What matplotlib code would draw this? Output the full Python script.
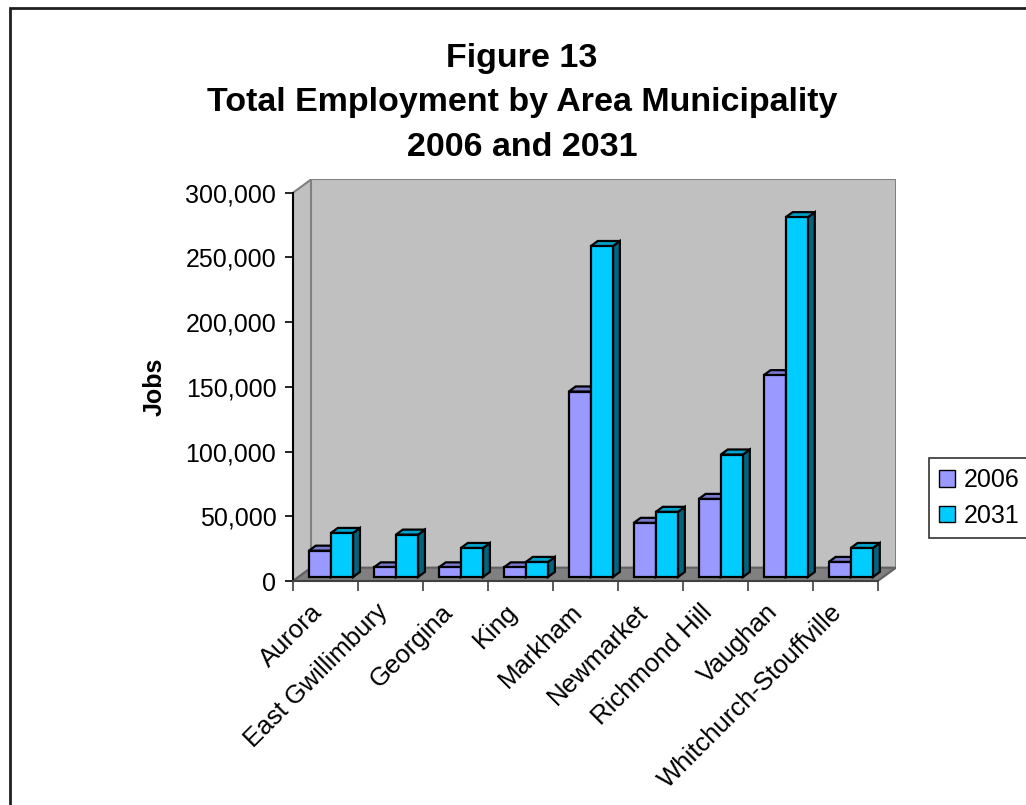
import matplotlib
matplotlib.use("Agg")
import matplotlib.pyplot as plt
from matplotlib.patches import Polygon, Rectangle
from matplotlib.transforms import ScaledTranslation

plt.rcParams["font.family"] = ["Liberation Sans", "DejaVu Sans"]

# Data (jobs)
municipalities = ["Aurora", "East Gwillimbury", "Georgina", "King", "Markham",
                  "Newmarket", "Richmond Hill", "Vaughan", "Whitchurch-Stouffville"]
jobs_2006 = [20300, 7400, 7400, 7400, 143300, 41800, 60300, 155900, 11600]
jobs_2031 = [34000, 32700, 22400, 11600, 255700, 50300, 94600, 278000, 22400]
series_names = ["2006", "2031"]
y_ticks = [0, 50000, 100000, 150000, 200000, 250000, 300000]

# colours: front, top, side
colors = {
    "2006": ("#9999FF", "#7A7ACC", "#4D4D80"),
    "2031": ("#00CCFF", "#00A3CC", "#006680"),
}

# oblique depth vector (category units, jobs)
DX, DY = 0.28, 10300
F0, F1 = 0.30, 0.68   # bar front / back position within depth
W = 0.34
YMAX = y_ticks[-1]
n = len(municipalities)

fig = plt.figure(figsize=(10.26, 8.05), dpi=100)
ax = fig.add_axes([293 / 1026, 1 - 581 / 805, 603 / 1026, 401.6 / 805])
ax.set_xlim(0, n + DX)
ax.set_ylim(0, YMAX + DY)

# walls and floor
wall_kw = dict(facecolor="#C0C0C0", edgecolor="#808080", linewidth=1.5, zorder=1)
ax.add_patch(Polygon([(0, 0), (DX, DY), (DX, YMAX + DY), (0, YMAX)], **wall_kw))
ax.add_patch(Polygon([(DX, DY), (n + DX, DY), (n + DX, YMAX + DY), (DX, YMAX + DY)], **wall_kw))
ax.add_patch(Polygon([(0, 0), (n, 0), (n + DX, DY), (DX, DY)],
                     facecolor="#808080", edgecolor="#606060", linewidth=1.5, zorder=2))


def draw_bar(x0, x1, v, front, top, side):
    kw = dict(edgecolor="black", linewidth=1.6, joinstyle="miter", zorder=3)
    ax.add_patch(Polygon([(x1 + F0 * DX, F0 * DY), (x1 + F1 * DX, F1 * DY),
                          (x1 + F1 * DX, v + F1 * DY), (x1 + F0 * DX, v + F0 * DY)],
                         facecolor=side, **kw))
    ax.add_patch(Polygon([(x0 + F0 * DX, v + F0 * DY), (x1 + F0 * DX, v + F0 * DY),
                          (x1 + F1 * DX, v + F1 * DY), (x0 + F1 * DX, v + F1 * DY)],
                         facecolor=top, **kw))
    ax.add_patch(Rectangle((x0 + F0 * DX, F0 * DY), x1 - x0, v,
                           facecolor=front, **kw))


for i in range(n):
    for s, vals in enumerate([jobs_2006, jobs_2031]):
        x0 = i + 0.5 - W + s * W
        draw_bar(x0, x0 + W, vals[i], *colors[series_names[s]])

# axes styling
for side in ["top", "right"]:
    ax.spines[side].set_visible(False)
ax.spines["left"].set_bounds(0, YMAX)
ax.spines["left"].set_linewidth(1.5)
ax.spines["bottom"].set_bounds(0, n)
ax.spines["bottom"].set_linewidth(1.5)
ax.spines["bottom"].set_color("#404040")
ax.set_yticks(y_ticks)
ax.set_yticklabels([f"{v:,}" for v in y_ticks], fontsize=18)
ax.tick_params(axis="y", length=6, width=1.2, pad=6)
ax.set_xticks(range(n + 1))
ax.set_xticklabels([])
ax.tick_params(axis="x", length=7, width=1.2, color="#404040")
ax.set_xticks([i + 0.5 for i in range(n)], minor=True)
ax.set_xticklabels(municipalities, minor=True, rotation=45, ha="right",
                   rotation_mode="anchor", fontsize=18.5)
ax.tick_params(axis="x", which="minor", length=0, pad=10)
shift = ScaledTranslation(-0.15, -0.05, fig.dpi_scale_trans)
for lab in ax.get_xticklabels(minor=True):
    lab.set_transform(lab.get_transform() + shift)
ax.patch.set_visible(False)

fig.text(155 / 1026, 1 - 387 / 805, "Jobs", rotation=90, fontsize=18,
         fontweight="bold", ha="center", va="center")

fig.text(522 / 1026, 1 - 103 / 805,
         "Figure 13\nTotal Employment by Area Municipality\n2006 and 2031",
         fontsize=24.5, fontweight="bold", ha="center", va="center", linespacing=1.58)

handles = [Rectangle((0, 0), 1, 1, facecolor=colors[s][0], edgecolor="black", linewidth=1)
           for s in series_names]
leg = fig.legend(handles, series_names, loc="center left",
                 bbox_to_anchor=(929 / 1026, 1 - 498 / 805), fontsize=18,
                 frameon=True, fancybox=False, handlelength=0.65, handleheight=0.65,
                 handletextpad=0.35, borderpad=0.4, labelspacing=0.45,
                 borderaxespad=0)
leg.get_frame().set_edgecolor("black")
leg.get_frame().set_linewidth(1.2)

# outer chart border (right and bottom edges fall outside the image)
fig.patches.append(Rectangle((10 / 1026, -0.1), 1.2, 1 - 8 / 805 + 0.1,
                             transform=fig.transFigure, fill=False,
                             edgecolor="#202020", linewidth=2))

fig.savefig("out.png", dpi=100)
